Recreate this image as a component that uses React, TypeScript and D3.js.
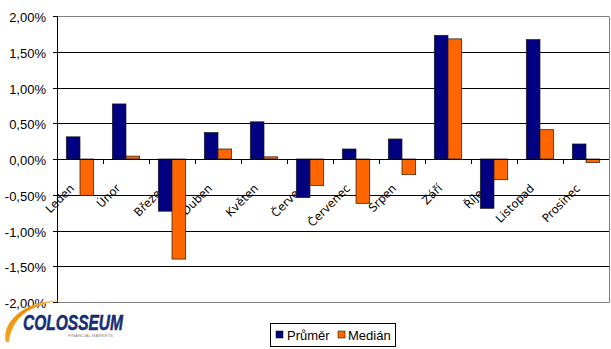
import React from "react";
import * as d3 from "d3";

const categories = ["Leden", "Únor", "Březen", "Duben", "Květen", "Červen", "Červenec", "Srpen", "Září", "Říjen", "Listopad", "Prosinec"];
const prumer = [0.31, 0.77, -0.73, 0.37, 0.52, -0.54, 0.14, 0.28, 1.73, -0.69, 1.67, 0.21];
const median = [-0.51, 0.04, -1.4, 0.14, 0.03, -0.37, -0.62, -0.22, 1.68, -0.29, 0.41, -0.05];
const yTicks = [2, 1.5, 1, 0.5, 0, -0.5, -1, -1.5, -2];
const seriesNames = ["Průměr", "Medián"];
const colors = ["#000080", "#FF6600"];

const W = 611, H = 349;
const left = 57, right = 609, top = 16, bottom = 302;

export default function App() {
  const x = d3.scaleBand<string>().domain(categories).range([left, right]).paddingInner(0).paddingOuter(0);
  const xs = d3.scaleBand<string>().domain(["p", "m"]).range([0, x.bandwidth()]).paddingInner(0).paddingOuter(0.68);
  const y = d3.scaleLinear().domain([-2, 2]).range([bottom, top]);
  const fmt = (v: number) => v.toFixed(2).replace(".", ",") + "%";
  const y0 = y(0);
  const series = [prumer, median];
  const keys = ["p", "m"];

  return (
    <svg width={W} height={H} style={{ position: "absolute", left: 0, top: 0, background: "#fff" }}>
      <rect x={0} y={0} width={W} height={H} fill="#fff" />
      {/* gridlines */}
      {yTicks.map((t) => (
        <line key={"g" + t} x1={left} x2={right} y1={Math.round(y(t)) + 0.5} y2={Math.round(y(t)) + 0.5}
          stroke={t === 2 || t === -2 ? "#808080" : "#000"} strokeWidth={1} />
      ))}
      <line x1={right + 0.5} x2={right + 0.5} y1={Math.round(y(2)) + 0.5} y2={Math.round(y(-2)) + 0.5} stroke="#808080" />
      {/* y ticks & labels */}
      {yTicks.map((t) => (
        <g key={"t" + t}>
          <line x1={left - 4} x2={left} y1={Math.round(y(t)) + 0.5} y2={Math.round(y(t)) + 0.5} stroke="#000" />
          <text x={46} y={y(t) + 6} textAnchor="end" fontFamily="'Liberation Sans', Arial, sans-serif" fontSize={13} fill="#000">{fmt(t)}</text>
        </g>
      ))}
      {/* category labels (behind bars) */}
      {categories.map((c) => {
        const cx = (x(c) as number) + x.bandwidth() / 2;
        return (
          <text key={"l" + c} transform={`translate(${cx - 5},${189}) rotate(-45)`} textAnchor="end"
            fontFamily="'DejaVu Sans', Verdana, sans-serif" fontSize={11.5} fill="#000">{c}</text>
        );
      })}
      {/* category ticks */}
      {categories.slice(1).map((c) => (
        <line key={"ct" + c} x1={Math.round(x(c) as number) + 0.5} x2={Math.round(x(c) as number) + 0.5} y1={y0} y2={y0 + 5} stroke="#000" />
      ))}
      {/* bars */}
      {series.map((s, si) =>
        s.map((v, i) => {
          const bx = (x(categories[i]) as number) + (xs(keys[si]) as number);
          const yv = y(v);
          return (
            <rect key={`b${si}-${i}`} x={bx} y={Math.min(yv, y0)} width={xs.bandwidth()} height={Math.abs(yv - y0)}
              fill={colors[si]} stroke="#1a1a1a" strokeWidth={0.7} />
          );
        })
      )}
      {/* axes */}
      <line x1={left} x2={right} y1={Math.round(y0) + 0.5} y2={Math.round(y0) + 0.5} stroke="#000" />
      <line x1={left + 0.5} x2={left + 0.5} y1={top} y2={bottom + 1} stroke="#000" />
      {/* legend */}
      <g>
        <rect x={270.5} y={323.5} width={125} height={23} fill="#fff" stroke="#000" />
        <rect x={276} y={331} width={7} height={7} fill={colors[0]} stroke="#000" strokeWidth={0.5} />
        <text x={287} y={340} fontFamily="'Liberation Sans', Arial, sans-serif" fontSize={13}>{seriesNames[0]}</text>
        <rect x={338} y={331} width={7} height={7} fill={colors[1]} stroke="#000" strokeWidth={0.5} />
        <text x={348} y={340} fontFamily="'Liberation Sans', Arial, sans-serif" fontSize={13}>{seriesNames[1]}</text>
      </g>
      {/* logo */}
      <g>
        <defs>
          <linearGradient id="sw" x1="0" y1="1" x2="1" y2="0">
            <stop offset="0" stopColor="#f5a623" />
            <stop offset="0.6" stopColor="#f08a00" />
            <stop offset="1" stopColor="#ffd27a" />
          </linearGradient>
        </defs>
        <path d="M6,342 C2,328 14,310 40,303 C48,301 56,300 62,300 C50,302 36,306 26,312 C16,319 10,330 9,342 Z" fill="url(#sw)" />
        <text x={23} y={330} fontFamily="'Liberation Sans', Arial, sans-serif" fontWeight="bold" fontStyle="italic" fontSize={22}
          fill="#16307a" stroke="#0d1f55" strokeWidth={0.5} textLength={100} lengthAdjust="spacingAndGlyphs">COLOSSEUM</text>
        <text x={68} y={337} fontFamily="'Liberation Sans', Arial, sans-serif" fontSize={3.5} fill="#888" textLength={45} lengthAdjust="spacingAndGlyphs">FINANCIAL MARKETS</text>
      </g>
    </svg>
  );
}
